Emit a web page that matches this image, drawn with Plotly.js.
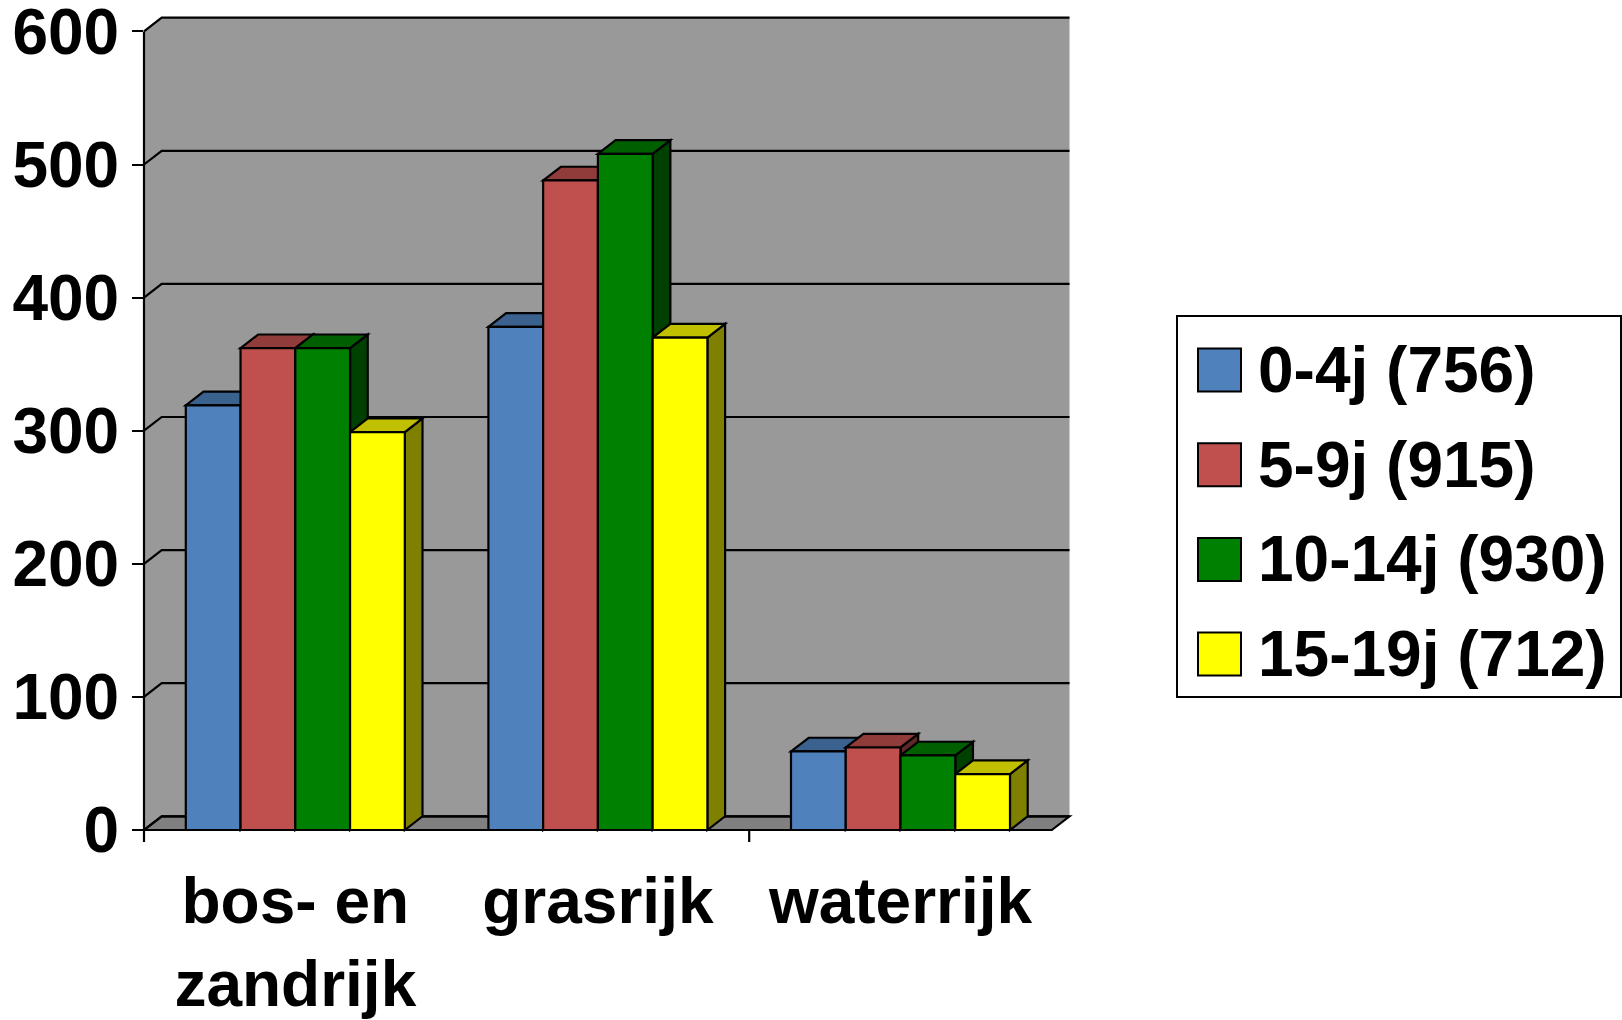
<!DOCTYPE html>
<html><head><meta charset="utf-8">
<script src="https://cdn.plot.ly/plotly-3.0.1.min.js"></script>
<style>html,body{margin:0;padding:0;background:#fff}#chart{width:1622px;height:1020px}</style>
</head><body><div id="chart"></div>
<script>
// ---- data ----
const categories = ['bos- en<br>zandrijk', 'grasrijk', 'waterrijk'];
const seriesNames = ['0-4j (756)', '5-9j (915)', '10-14j (930)', '15-19j (712)'];
const age0_4 = [319, 378, 59];
const age5_9 = [362, 488, 62];
const age10_14 = [362, 508, 56];
const age15_19 = [299, 370, 42];
const yTickValues = [0, 100, 200, 300, 400, 500, 600];

// ---- styling ----
const seriesValues = [age0_4, age5_9, age10_14, age15_19];
const frontColors = ['#4F81BD', '#C0504D', '#008000', '#FFFF00'];
const topColors = ['#3B618E', '#903C3A', '#006000', '#C0C000'];
const sideColors = ['#284060', '#602826', '#004000', '#808000'];
const FONT = 'Liberation Sans, Arial, sans-serif';

const W = 1622, H = 1020, M = {l: 144, r: 551, t: 17, b: 190};
const plotW = W - M.l - M.r, plotH = H - M.t - M.b;
const PX_PER_CAT = 302.6, PX_PER_UNIT = 1.331;
const XMIN = -0.5, XMAX = XMIN + plotW / PX_PER_CAT;
const YMIN = 0, YMAX = plotH / PX_PER_UNIT;
const DX = 17.7 / PX_PER_CAT, DY = 13.7 / PX_PER_UNIT;
const BAR_W = 54.75 / PX_PER_CAT;
const GROUP_START = -2 * BAR_W;
const XEND = categories.length - 0.5;
const YTOP = yTickValues[yTickValues.length - 1];
const LW = 2.2;

const px = x => (x - XMIN) / (XMAX - XMIN);
const py = y => (y - YMIN) / (YMAX - YMIN);
const pathOf = (pts, close) => pts.map((p, i) => (i ? 'L' : 'M') + px(p[0]).toFixed(6) + ',' + py(p[1]).toFixed(6)).join(' ') + (close ? ' Z' : '');
const pxX = v => (v - M.l) / plotW;
const pxY = v => (H - M.b - v) / plotH;

const shapes = [];
const poly = (pts, fill, lw) => shapes.push({type: 'path', xref: 'paper', yref: 'paper', layer: 'below',
  path: pathOf(pts, true), fillcolor: fill, line: {color: '#000', width: lw}});
const line = (pts) => shapes.push({type: 'path', xref: 'paper', yref: 'paper', layer: 'below',
  path: pathOf(pts, false), line: {color: '#000', width: LW}});

// walls (left + back)
poly([[XMIN, 0], [XMIN, YTOP], [XMIN + DX, YTOP + DY], [XEND + DX, YTOP + DY], [XEND + DX, DY], [XMIN + DX, DY]], '#999999', 0);
// floor
poly([[XMIN, 0], [XEND, 0], [XEND + DX, DY], [XMIN + DX, DY]], '#808080', LW);
// gridlines with the diagonal connectors
yTickValues.forEach(v => line([[XMIN, v], [XMIN + DX, v + DY], [XEND + DX, v + DY]]));
// front value axis line
line([[XMIN, 0], [XMIN, YTOP]]);
// category boundary tick marks
[XMIN, 1.5].forEach(x => shapes.push({type: 'line', xref: 'paper', yref: 'paper', layer: 'below',
  x0: px(x), x1: px(x), y0: py(0), y1: py(0) - 12 / plotH, line: {color: '#000', width: LW}}));

// bar side and top faces (painter's order left to right)
categories.forEach((c, ci) => {
  seriesValues.forEach((vals, si) => {
    const v = vals[ci];
    const x0 = ci + GROUP_START + si * BAR_W, x1 = x0 + BAR_W;
    poly([[x1, 0], [x1, v], [x1 + DX, v + DY], [x1 + DX, DY]], sideColors[si], LW);
    poly([[x0, v], [x1, v], [x1 + DX, v + DY], [x0 + DX, v + DY]], topColors[si], LW);
  });
});

// bars (front faces)
const traces = seriesValues.map((vals, si) => ({
  type: 'bar', name: seriesNames[si], x: categories.map((c, i) => i), y: vals,
  offset: GROUP_START + si * BAR_W, width: BAR_W, cliponaxis: false, showlegend: false,
  marker: {color: frontColors[si], line: {color: '#000', width: LW}},
  hovertemplate: seriesNames[si] + ': %{y}<extra></extra>'
}));

// custom legend
const annotations = [];
const LEG = {x0: 1177, x1: 1621, y0: 316, y1: 697, row0: 370, rowStep: 94.7, sw0: 1198, sw1: 1241, text: 1256};
shapes.push({type: 'rect', xref: 'paper', yref: 'paper', x0: pxX(LEG.x0), x1: pxX(LEG.x1), y0: pxY(LEG.y1), y1: pxY(LEG.y0),
  fillcolor: '#fff', line: {color: '#000', width: 2}});
seriesNames.forEach((n, si) => {
  const cy = LEG.row0 + si * LEG.rowStep, half = (LEG.sw1 - LEG.sw0) / 2;
  shapes.push({type: 'rect', xref: 'paper', yref: 'paper', x0: pxX(LEG.sw0), x1: pxX(LEG.sw1), y0: pxY(cy + half), y1: pxY(cy - half),
    fillcolor: frontColors[si], line: {color: '#000', width: 2}});
  annotations.push({xref: 'paper', yref: 'paper', x: pxX(LEG.text), y: pxY(cy), xanchor: 'left', yanchor: 'middle',
    text: n, showarrow: false, font: {family: FONT, size: 64, color: '#000', weight: 'bold'}});
});

const tickFont = {family: FONT, size: 64, color: '#000', weight: 'bold'};
const layout = {
  width: W, height: H, margin: M, paper_bgcolor: '#fff', plot_bgcolor: '#fff',
  barmode: 'overlay', showlegend: false,
  xaxis: {range: [XMIN, XMAX], tickmode: 'array', tickvals: categories.map((c, i) => i), ticktext: categories,
    ticks: '', showgrid: false, zeroline: false, showline: false, tickfont: tickFont, ticklabelstandoff: 28,
    ticklabeloverflow: 'allow', fixedrange: true},
  yaxis: {range: [YMIN, YMAX], tickmode: 'array', tickvals: yTickValues, ticks: 'outside', ticklen: 11, tickwidth: 2, tickcolor: '#000',
    showgrid: false, zeroline: false, showline: false, tickfont: tickFont, ticklabelstandoff: 0,
    ticklabeloverflow: 'allow', fixedrange: true},
  shapes: shapes, annotations: annotations
};
Plotly.newPlot('chart', traces, layout, {displayModeBar: false, staticPlot: true});
</script></body></html>
